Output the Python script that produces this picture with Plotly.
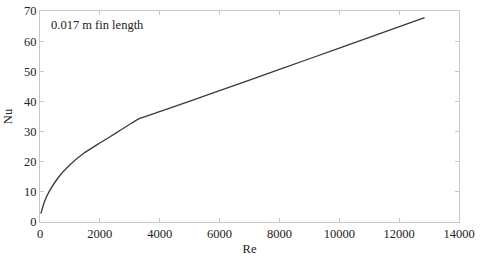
import plotly.graph_objects as go

re_vals = [30, 150, 300, 600, 950, 1450, 2000, 2600, 3300, 4000, 6000, 8000, 10000, 12850]
nu_vals = [2.8, 6.8, 10.0, 14.6, 18.5, 22.7, 26.2, 29.9, 34.2, 36.6, 43.6, 50.6, 57.7, 67.8]
x_ticks = [0, 2000, 4000, 6000, 8000, 10000, 12000, 14000]
y_ticks = [0, 10, 20, 30, 40, 50, 60, 70]
label = "0.017 m fin length"

fig = go.Figure()
fig.add_trace(go.Scatter(x=re_vals, y=nu_vals, mode="lines", line_shape="spline",
                         line=dict(color="#3a3a3a", width=1.3, smoothing=0.4), showlegend=False))

font = dict(family="Liberation Serif, Times New Roman, serif", size=12.5, color="#222")
axis_common = dict(showgrid=False, zeroline=False, showline=True, linecolor="#c8c8c8",
                   linewidth=1, mirror="ticks", ticks="inside", ticklen=4,
                   tickcolor="#c8c8c8", tickfont=font, automargin=False, tickformat="d",
                   ticklabeloverflow="allow")
fig.update_xaxes(range=[0, 14000], tickvals=x_ticks, title=dict(text="Re", font=font, standoff=4),
                 **axis_common)
fig.update_yaxes(range=[0, 70], tickvals=y_ticks, title=dict(text="Nu", font=font, standoff=8),
                 **axis_common)
fig.add_annotation(x=0.022, y=0.975, xref="paper", yref="paper", text=label, showarrow=False,
                   xanchor="left", yanchor="top", font=font)
fig.update_layout(width=480, height=264, margin=dict(l=40, r=21, t=11, b=42),
                  paper_bgcolor="white", plot_bgcolor="white", font=font)
fig.write_html("out.html", config={"displayModeBar": False},
               post_script="document.body.style.margin='0';")
